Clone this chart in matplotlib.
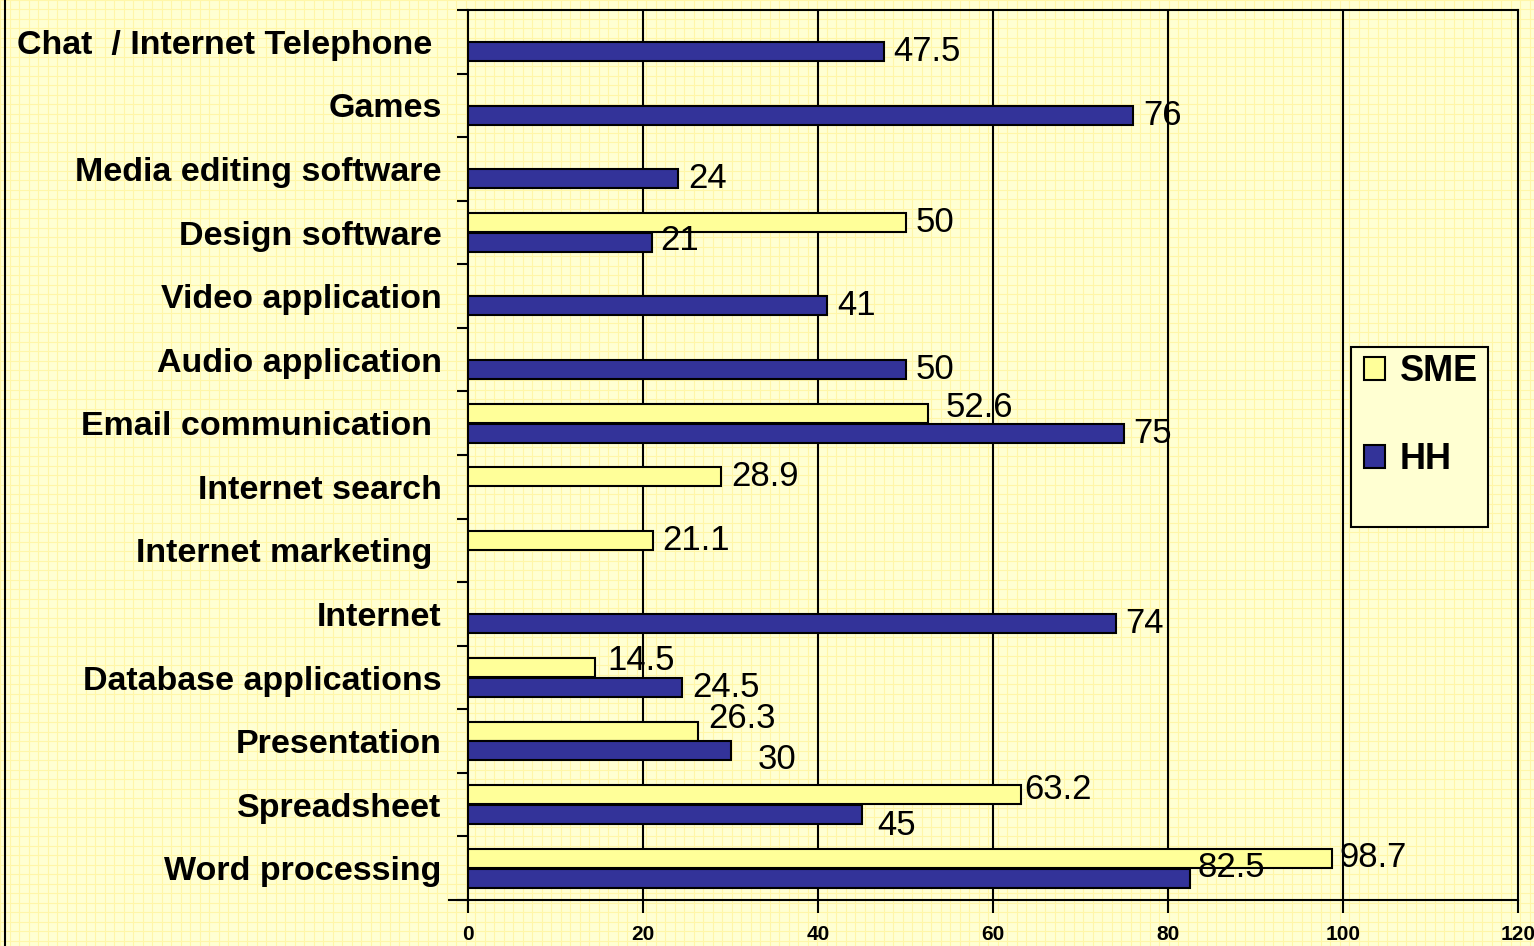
import numpy as np
import matplotlib
matplotlib.use("Agg")
import matplotlib.pyplot as plt
from matplotlib.patches import Rectangle

# categories listed bottom -> top
categories = [
    "Word processing", "Spreadsheet", "Presentation", "Database applications",
    "Internet", "Internet marketing ", "Internet search", "Email communication ",
    "Audio application", "Video application", "Design software",
    "Media editing software", "Games", "Chat  / Internet Telephone ",
]
sme = [98.7, 63.2, 26.3, 14.5, np.nan, 21.1, 28.9, 52.6,
       np.nan, np.nan, 50, np.nan, np.nan, np.nan]
hh = [82.5, 45, 30, 24.5, 74, np.nan, np.nan, 75,
      50, 41, 21, 24, 76, 47.5]
xticks = [0, 20, 40, 60, 80, 100, 120]

# label nudges in pixels (dx, dy) for crowded value labels
sme_nudge = {0: (8, 1), 1: (3, 5), 2: (10, 13), 3: (12, 7), 7: (17, 6), 10: (10, 0)}
hh_nudge = {0: (8, 11), 1: (16, -11), 2: (27, -9), 3: (10, 0), 7: (9, 0), 10: (8, 2)}

yellow = "#ffff99"
navy = "#333399"
bg = "#ffffd2"

fig = plt.figure(figsize=(15.34, 9.46), dpi=100, facecolor=bg)

# background with fine paper grid
bgax = fig.add_axes([0, 0, 1, 1], zorder=-10)
bgax.set_xlim(0, 1534)
bgax.set_ylim(946, 0)
for gx in np.arange(0, 1534, 9.5):
    bgax.axvline(gx, color="#fff6a8", lw=0.8)
for gy in np.arange(0, 946, 9.5):
    bgax.axhline(gy, color="#fff6a8", lw=0.8)
bgax.axvline(5, color="black", lw=1.5)
bgax.plot([449, 468], [900, 900], color="black", lw=1.5)
bgax.set_facecolor(bg)
bgax.set_axis_off()

ax = fig.add_axes([468 / 1534, 46 / 946, 1050 / 1534, 890 / 946])
ax.patch.set_alpha(0)

y = np.arange(len(categories))
h = 0.3
off = 0.155
ax.barh(y + off, sme, height=h, color=yellow, edgecolor="black", lw=1.5,
        label="SME", zorder=3)
ax.barh(y - off, hh, height=h, color=navy, edgecolor="black", lw=1.5,
        label="HH", zorder=3)

lab_font = dict(fontsize=25, family="Liberation Sans", va="center", ha="left",
                textcoords="offset pixels", zorder=5)
for i, v in enumerate(sme):
    if not np.isnan(v):
        dx, dy = sme_nudge.get(i, (10, 0))
        ax.annotate(f"{v:g}", (v, y[i] + off), xytext=(dx, dy), **lab_font)
for i, v in enumerate(hh):
    if not np.isnan(v):
        dx, dy = hh_nudge.get(i, (10, 0))
        ax.annotate(f"{v:g}", (v, y[i] - off), xytext=(dx, dy), **lab_font)

ax.set_xlim(0, 120)
ax.set_ylim(-0.5, len(categories) - 0.5)
ax.set_xticks(xticks)
ax.set_xticklabels([str(t) for t in xticks], fontsize=15, fontweight="bold",
                   family="Liberation Sans")
ax.tick_params(axis="x", length=9, width=1.5, pad=9)
for t in xticks[1:-1]:
    ax.axvline(t, color="black", lw=1.5, zorder=1)

ax.set_yticks(np.arange(len(categories) + 1) - 0.5)
ax.set_yticklabels([])
ax.set_yticks(y, minor=True)
ax.set_yticklabels(categories, minor=True, fontsize=24.5, fontweight="bold",
                   family="Liberation Sans")
ax.tick_params(axis="y", which="major", length=8, width=1.5)
ax.tick_params(axis="y", which="minor", length=0, pad=19)

for s in ax.spines.values():
    s.set_linewidth(1.5)

# legend box drawn separately (Excel-style, entries sit high in the frame)
ax.add_patch(Rectangle((0.841, 0.419), 0.1305, 0.202, transform=ax.transAxes,
                       facecolor=bg, edgecolor="black", lw=1.5, zorder=6))
leg = ax.legend(loc="upper left", bbox_to_anchor=(0.853, 0.613),
                prop={"family": "Liberation Sans", "size": 26, "weight": "bold"},
                frameon=False, handlelength=0.6, handleheight=0.6,
                handletextpad=0.4, labelspacing=1.45, borderpad=0,
                borderaxespad=0)
leg.set_zorder(7)

fig.savefig("out.png", dpi=100, facecolor=bg)
